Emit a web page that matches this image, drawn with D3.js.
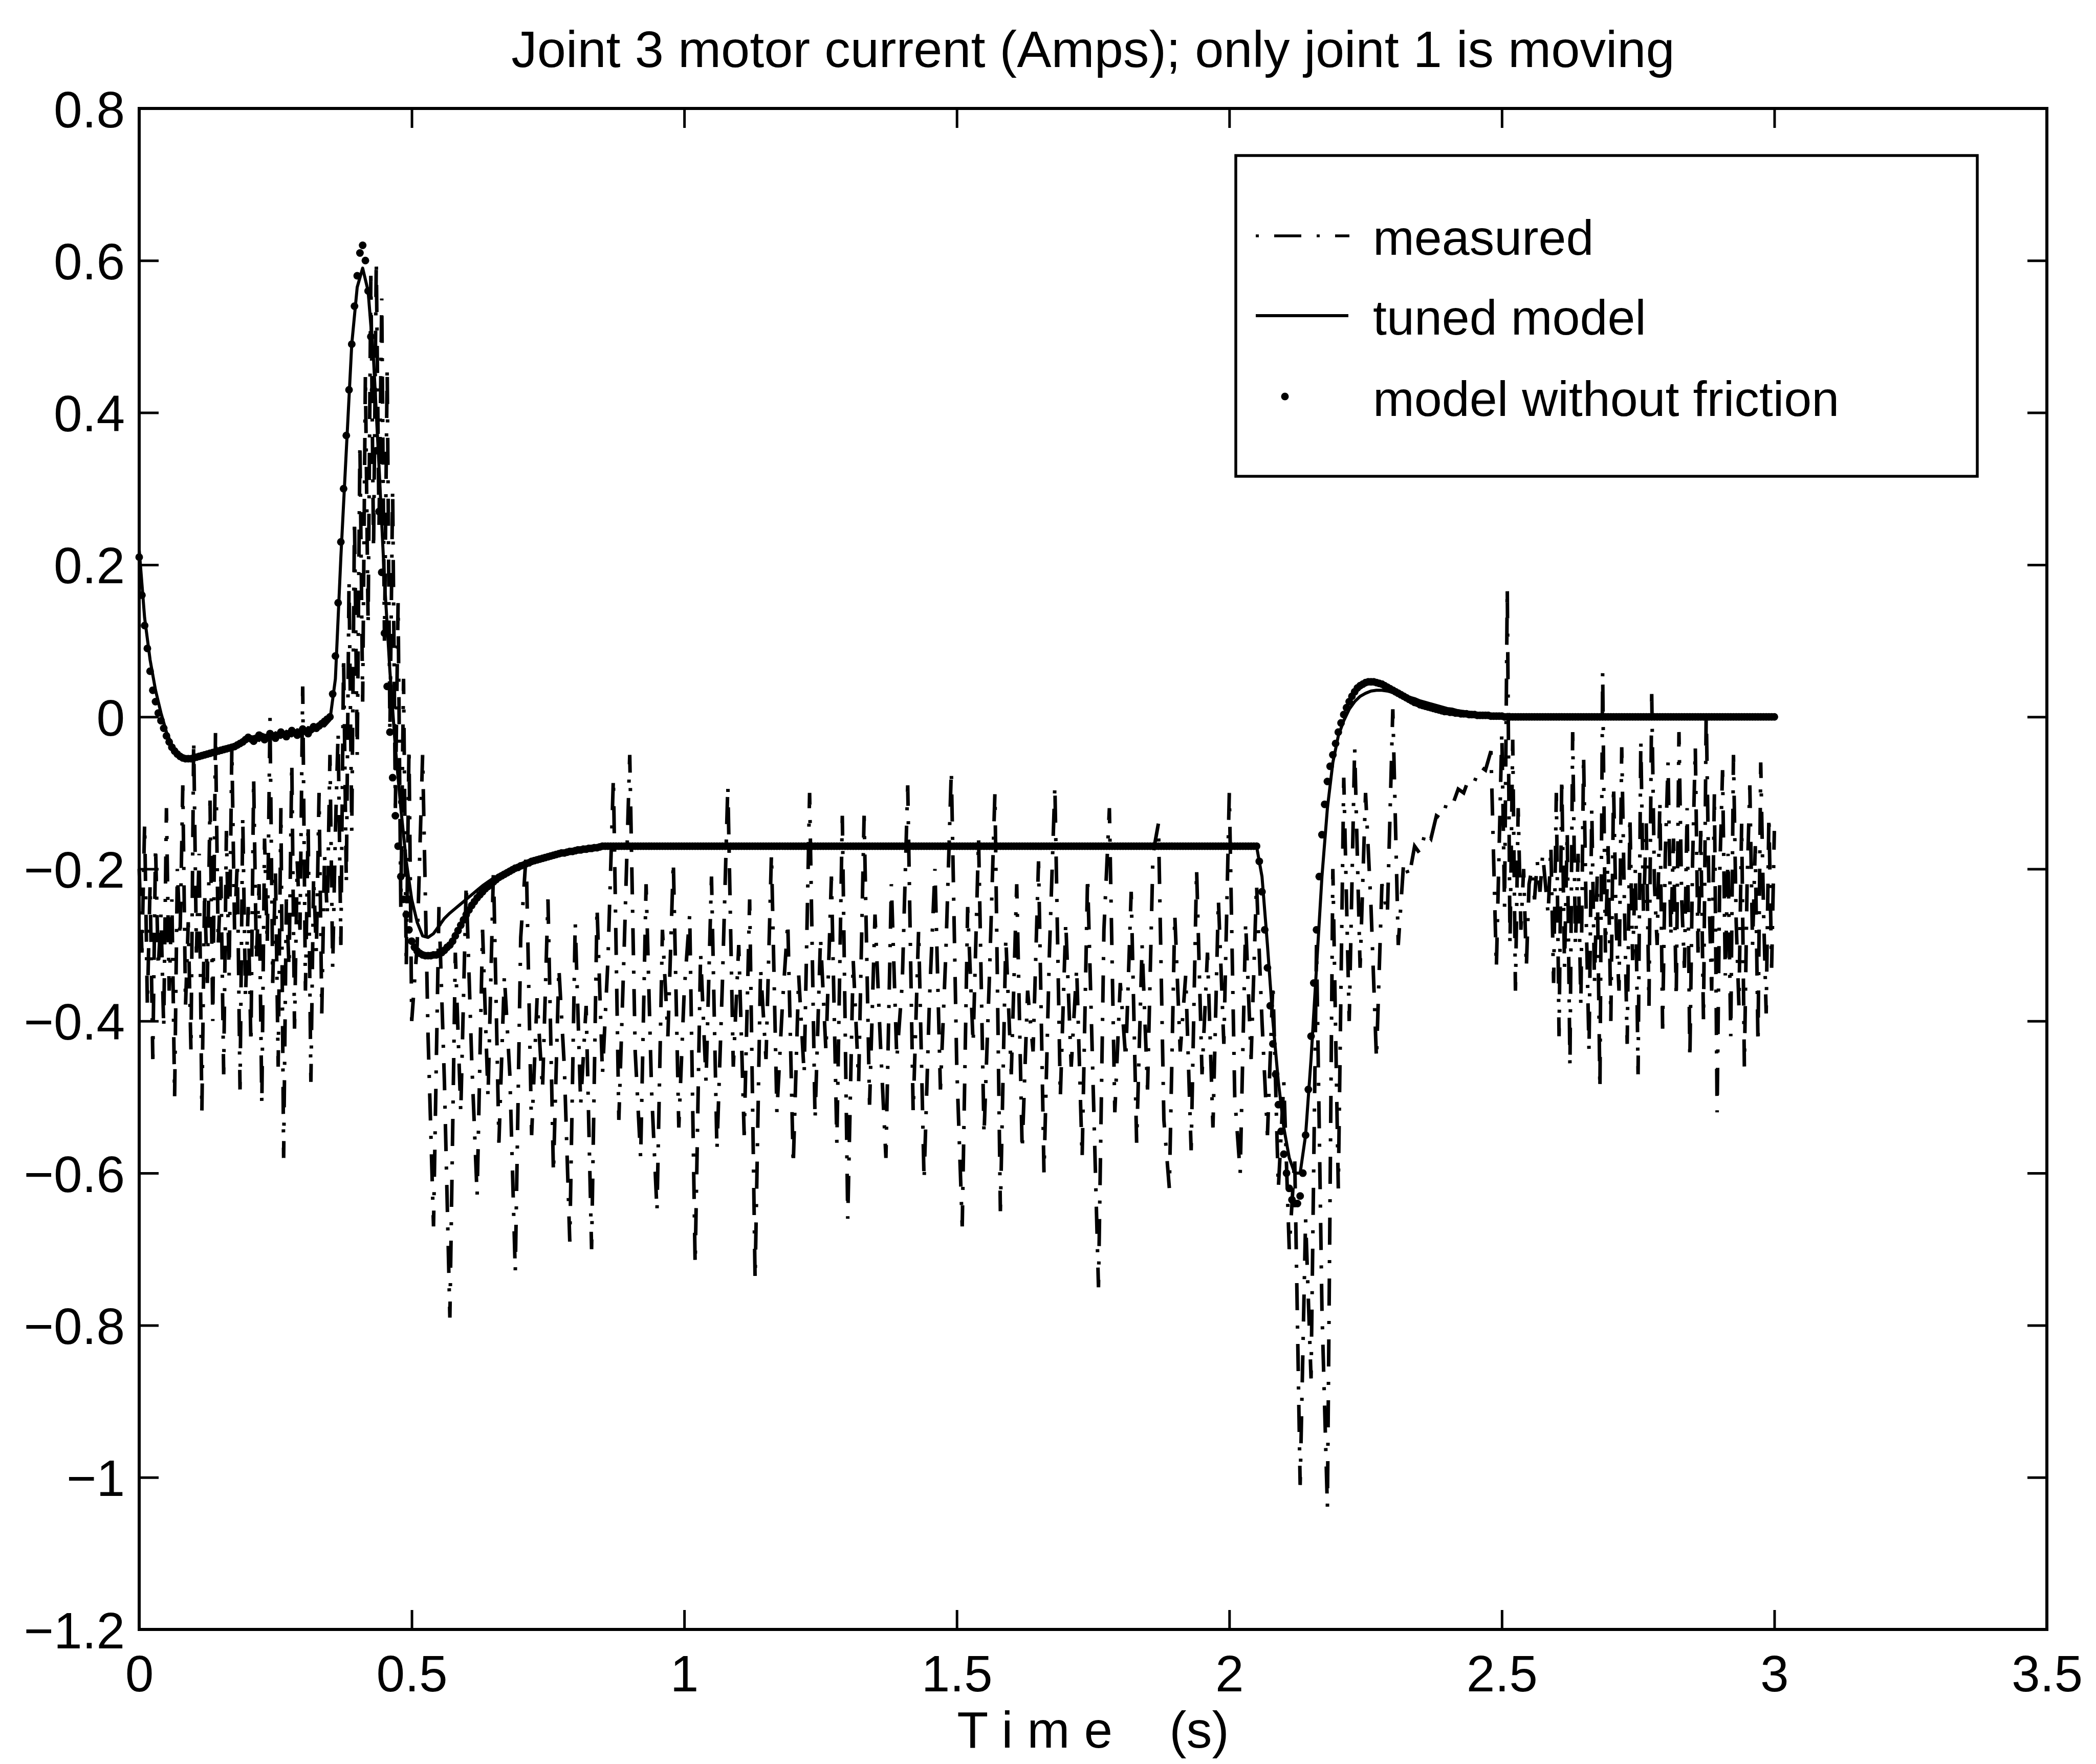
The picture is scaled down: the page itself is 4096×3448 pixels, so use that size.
<!DOCTYPE html>
<html><head><meta charset="utf-8">
<script src="https://cdn.jsdelivr.net/npm/d3@7"></script>
<style>html,body{margin:0;padding:0;background:#fff;}</style>
</head><body><svg id="chart" width="4096" height="3448"></svg>
<script>
// ---------------- data ----------------
const titleText = "Joint 3 motor current (Amps); only joint 1 is moving";
const xLabelText = "T i m e    (s)";
const legendLabels = ["measured", "tuned model", "model without friction"];
const xTicks = [0, 0.5, 1, 1.5, 2, 2.5, 3, 3.5];
const yTicks = [-1.2, -1, -0.8, -0.6, -0.4, -0.2, 0, 0.2, 0.4, 0.6, 0.8];

// measured current, in three pieces (start time, step)
// piece 1: 0.000 .. 0.500 s, every 0.005 s
const measuredA_start = 0, measuredA_step = 0.005;
const measuredA = [
/*0.000*/ -0.20,-0.31,-0.14,-0.38,-0.22,-0.45,-0.17,-0.33,-0.26,-0.41,
/*0.050*/ -0.12,-0.36,-0.24,-0.50,-0.20,-0.29,-0.09,-0.38,-0.27,-0.44,
/*0.100*/ -0.03,-0.31,-0.18,-0.52,-0.23,-0.35,-0.11,-0.40,-0.02,-0.30,
/*0.150*/ -0.21,-0.47,-0.15,-0.34,-0.04,-0.28,-0.19,-0.49,-0.13,-0.37,
/*0.200*/ -0.25,-0.43,-0.08,-0.32,-0.22,-0.51,-0.16,-0.30,0.00,-0.35,
/*0.250*/ -0.20,-0.46,-0.12,-0.58,-0.24,-0.33,-0.06,-0.41,-0.19,-0.28,
/*0.300*/ 0.04,-0.36,-0.14,-0.48,-0.21,-0.31,-0.10,-0.39,-0.18,-0.26,
/*0.350*/ -0.05,-0.33,-0.15,-0.02,-0.30,0.08,-0.22,0.18,-0.15,0.26,
/*0.400*/ -0.05,0.36,0.02,0.45,0.12,0.58,0.22,0.60,0.25,0.55,
/*0.450*/ 0.10,0.46,-0.02,0.30,-0.12,0.15,-0.25,0.05,-0.33,-0.04,
/*0.500*/ -0.40
];
// piece 2: 0.51 .. 2.50 s, every 0.01 s
const measuredB_start = 0.51, measuredB_step = 0.01;
const measuredB = [
/*0.51*/ -0.30,-0.05,-0.42,-0.67,-0.25,-0.48,-0.79,-0.31,-0.52,
/*0.60*/ -0.22,-0.45,-0.63,-0.28,-0.50,-0.20,-0.56,-0.34,-0.47,-0.73,
/*0.70*/ -0.29,-0.18,-0.55,-0.37,-0.49,-0.24,-0.60,-0.33,-0.46,-0.69,
/*0.80*/ -0.27,-0.51,-0.38,-0.70,-0.25,-0.47,-0.32,-0.08,-0.53,-0.30,
/*0.90*/ -0.05,-0.44,-0.58,-0.22,-0.49,-0.65,-0.28,-0.42,-0.19,-0.54,
/*1.00*/ -0.36,-0.26,-0.72,-0.31,-0.48,-0.21,-0.57,-0.35,-0.09,-0.46,
/*1.10*/ -0.30,-0.55,-0.24,-0.74,-0.33,-0.45,-0.18,-0.52,-0.38,-0.27,
/*1.20*/ -0.59,-0.34,-0.47,-0.10,-0.53,-0.29,-0.44,-0.21,-0.56,-0.13,
/*1.30*/ -0.66,-0.32,-0.48,-0.13,-0.51,-0.26,-0.43,-0.58,-0.22,-0.45,
/*1.40*/ -0.35,-0.09,-0.52,-0.28,-0.61,-0.37,-0.20,-0.49,-0.31,-0.07,
/*1.50*/ -0.46,-0.67,-0.25,-0.43,-0.16,-0.55,-0.34,-0.10,-0.65,-0.29,
/*1.60*/ -0.47,-0.22,-0.57,-0.36,-0.44,-0.19,-0.60,-0.31,-0.09,-0.50,
/*1.70*/ -0.27,-0.46,-0.33,-0.58,-0.21,-0.48,-0.75,-0.28,-0.12,-0.52,
/*1.80*/ -0.35,-0.45,-0.23,-0.56,-0.30,-0.49,-0.18,-0.14,-0.53,-0.62,
/*1.90*/ -0.26,-0.44,-0.34,-0.57,-0.20,-0.47,-0.31,-0.54,-0.24,-0.43,
/*2.00*/ -0.10,-0.50,-0.60,-0.27,-0.45,-0.22,-0.40,-0.55,-0.35,-0.62,
/*2.10*/ -0.48,-0.70,-0.58,-1.01,-0.66,-0.87,-0.30,-0.78,-1.04,-0.20,
/*2.20*/ -0.62,-0.08,-0.40,-0.04,-0.33,-0.10,-0.25,-0.45,-0.22,-0.26,
/*2.30*/ 0.01,-0.30,-0.19,-0.21,-0.17,-0.18,-0.15,-0.16,-0.13,-0.135,
/*2.40*/ -0.11,-0.115,-0.095,-0.10,-0.08,-0.085,-0.065,-0.07,-0.045,-0.33,
/*2.50*/ -0.02
];
// piece 3: 2.505 .. 3.000 s, every 0.005 s
const measuredC_start = 2.505, measuredC_step = 0.005;
const measuredC = [
/*2.505*/ -0.25,0.17,-0.30,-0.03,-0.36,-0.12,-0.28,-0.20,-0.33,-0.22,
/*2.555*/ -0.20,-0.24,-0.19,-0.23,-0.18,-0.22,-0.26,-0.17,-0.35,-0.10,
/*2.605*/ -0.42,-0.08,-0.33,-0.15,-0.46,-0.02,-0.30,-0.18,-0.38,-0.05,
/*2.655*/ -0.27,-0.44,-0.12,-0.35,-0.21,-0.49,0.06,-0.31,-0.17,-0.40,
/*2.705*/ -0.09,-0.28,-0.36,-0.04,-0.25,-0.43,-0.13,-0.32,-0.20,-0.47,
/*2.755*/ -0.03,-0.26,-0.14,-0.38,0.03,-0.22,-0.30,-0.11,-0.41,-0.18,
/*2.805*/ -0.06,-0.29,-0.16,-0.37,-0.02,-0.24,-0.33,-0.12,-0.45,-0.19,
/*2.855*/ -0.04,-0.31,-0.15,-0.40,0.01,-0.23,-0.36,-0.10,-0.52,-0.20,
/*2.905*/ -0.07,-0.34,-0.18,-0.42,-0.05,-0.27,-0.38,-0.14,-0.46,-0.22,
/*2.955*/ -0.09,-0.30,-0.17,-0.43,-0.06,-0.25,-0.39,-0.13,-0.33,-0.15
];

// tuned model, one value every 0.01 s
const tunedStep = 0.01;
const tuned = [
/*0.00*/ 0.22,0.13,0.075,0.035,0.005,-0.02,-0.037,-0.047,-0.052,-0.054,
/*0.10*/ -0.053,-0.051,-0.049,-0.047,-0.045,-0.043,-0.041,-0.04,-0.038,-0.035,
/*0.20*/ -0.03,-0.026,-0.031,-0.024,-0.029,-0.021,-0.027,-0.019,-0.025,-0.017,
/*0.30*/ -0.022,-0.014,-0.018,-0.01,-0.012,-0.004,0.05,0.21,0.35,0.49,
/*0.40*/ 0.565,0.59,0.56,0.47,0.33,0.18,0.06,-0.04,-0.12,-0.19,
/*0.50*/ -0.24,-0.27,-0.288,-0.29,-0.285,-0.275,-0.265,-0.258,-0.252,-0.246,
/*0.60*/ -0.24,-0.234,-0.228,-0.222,-0.217,-0.212,-0.208,-0.204,-0.2,-0.197,
/*0.70*/ -0.194,-0.191,-0.189,-0.187,-0.185,-0.183,-0.181,-0.18,-0.179,-0.178,
/*0.80*/ -0.177,-0.176,-0.175,-0.174,-0.173,-0.172,-0.172,-0.171,-0.171,-0.17,
/*0.90*/ -0.17,-0.17,-0.17,-0.17,-0.17,-0.17,-0.17,-0.17,-0.17,-0.17,-0.17,-0.17,-0.17,-0.17,-0.17,-0.17,-0.17,-0.17,-0.17,-0.17,
/*1.10*/ -0.17,-0.17,-0.17,-0.17,-0.17,-0.17,-0.17,-0.17,-0.17,-0.17,-0.17,-0.17,-0.17,-0.17,-0.17,-0.17,-0.17,-0.17,-0.17,-0.17,
/*1.30*/ -0.17,-0.17,-0.17,-0.17,-0.17,-0.17,-0.17,-0.17,-0.17,-0.17,-0.17,-0.17,-0.17,-0.17,-0.17,-0.17,-0.17,-0.17,-0.17,-0.17,
/*1.50*/ -0.17,-0.17,-0.17,-0.17,-0.17,-0.17,-0.17,-0.17,-0.17,-0.17,-0.17,-0.17,-0.17,-0.17,-0.17,-0.17,-0.17,-0.17,-0.17,-0.17,
/*1.70*/ -0.17,-0.17,-0.17,-0.17,-0.17,-0.17,-0.17,-0.17,-0.17,-0.17,-0.17,-0.17,-0.17,-0.17,-0.17,-0.17,-0.17,-0.17,-0.17,-0.17,
/*1.90*/ -0.17,-0.17,-0.17,-0.17,-0.17,-0.17,-0.17,-0.17,-0.17,-0.17,
/*2.00*/ -0.17,-0.17,-0.17,-0.17,-0.17,-0.17,-0.21,-0.30,-0.40,-0.48,
/*2.10*/ -0.54,-0.58,-0.60,-0.60,-0.55,-0.45,-0.33,-0.21,-0.12,-0.06,
/*2.20*/ -0.025,-0.005,0.01,0.02,0.027,0.031,0.034,0.035,0.035,0.034,
/*2.30*/ 0.032,0.03,0.028,0.026,0.024,0.021,0.019,0.017,0.015,0.013,
/*2.40*/ 0.011,0.01,0.008,0.007,0.006,0.005,0.004,0.003,0.003,0.002,
/*2.50*/ 0.002,0.001,0.001,0,0,0,0,0,0,0,
/*2.60*/ 0,0,0,0,0,0,0,0,0,0,0,0,0,0,0,0,0,0,0,0,
/*2.80*/ 0,0,0,0,0,0,0,0,0,0,0,0,0,0,0,0,0,0,0,0,
/*3.00*/ 0
];

// model without friction, one dot every 0.005 s
const noFrictionStep = 0.005;
const noFriction = [
/*0.000*/ 0.21,0.16,0.12,0.09,0.06,0.035,0.02,0.005,-0.005,-0.015,
/*0.050*/ -0.025,-0.033,-0.04,-0.045,-0.049,-0.052,-0.054,-0.055,-0.055,-0.055,
/*0.100*/ -0.054,-0.053,-0.052,-0.051,-0.05,-0.049,-0.048,-0.047,-0.046,-0.045,
/*0.150*/ -0.044,-0.043,-0.042,-0.041,-0.04,-0.039,-0.037,-0.035,-0.033,-0.03,
/*0.200*/ -0.027,-0.029,-0.032,-0.028,-0.024,-0.026,-0.03,-0.027,-0.022,-0.025,
/*0.250*/ -0.028,-0.024,-0.02,-0.023,-0.026,-0.022,-0.018,-0.021,-0.024,-0.02,
/*0.300*/ -0.016,-0.019,-0.022,-0.017,-0.013,-0.015,-0.012,-0.009,-0.006,-0.003,
/*0.350*/ 0.0,0.03,0.08,0.15,0.23,0.30,0.37,0.43,0.49,0.54,
/*0.400*/ 0.58,0.61,0.62,0.60,0.56,0.50,0.43,0.35,0.27,0.19,
/*0.450*/ 0.11,0.04,-0.02,-0.08,-0.13,-0.17,-0.21,-0.24,-0.26,-0.28,
/*0.500*/ -0.295,-0.303,-0.308,-0.311,-0.313,-0.314,-0.314,-0.314,-0.313,-0.313,
/*0.550*/ -0.312,-0.31,-0.307,-0.303,-0.30,-0.295,-0.288,-0.281,-0.274,-0.267,
/*0.600*/ -0.26,-0.254,-0.248,-0.243,-0.238,-0.234,-0.23,-0.226,-0.223,-0.22,
/*0.650*/ -0.217,-0.214,-0.211,-0.209,-0.207,-0.205,-0.203,-0.201,-0.199,-0.198,
/*0.700*/ -0.196,-0.195,-0.193,-0.192,-0.19,-0.189,-0.188,-0.187,-0.186,-0.185,
/*0.750*/ -0.184,-0.183,-0.182,-0.181,-0.18,-0.179,-0.179,-0.178,-0.177,-0.177,
/*0.800*/ -0.176,-0.175,-0.175,-0.174,-0.174,-0.173,-0.173,-0.172,-0.172,-0.171,
/*0.850*/ -0.17,-0.17,-0.17,-0.17,-0.17,-0.17,-0.17,-0.17,-0.17,-0.17,-0.17,-0.17,-0.17,-0.17,-0.17,-0.17,-0.17,-0.17,-0.17,-0.17,
/*0.950*/ -0.17,-0.17,-0.17,-0.17,-0.17,-0.17,-0.17,-0.17,-0.17,-0.17,-0.17,-0.17,-0.17,-0.17,-0.17,-0.17,-0.17,-0.17,-0.17,-0.17,
/*1.050*/ -0.17,-0.17,-0.17,-0.17,-0.17,-0.17,-0.17,-0.17,-0.17,-0.17,-0.17,-0.17,-0.17,-0.17,-0.17,-0.17,-0.17,-0.17,-0.17,-0.17,
/*1.150*/ -0.17,-0.17,-0.17,-0.17,-0.17,-0.17,-0.17,-0.17,-0.17,-0.17,-0.17,-0.17,-0.17,-0.17,-0.17,-0.17,-0.17,-0.17,-0.17,-0.17,
/*1.250*/ -0.17,-0.17,-0.17,-0.17,-0.17,-0.17,-0.17,-0.17,-0.17,-0.17,-0.17,-0.17,-0.17,-0.17,-0.17,-0.17,-0.17,-0.17,-0.17,-0.17,
/*1.350*/ -0.17,-0.17,-0.17,-0.17,-0.17,-0.17,-0.17,-0.17,-0.17,-0.17,-0.17,-0.17,-0.17,-0.17,-0.17,-0.17,-0.17,-0.17,-0.17,-0.17,
/*1.450*/ -0.17,-0.17,-0.17,-0.17,-0.17,-0.17,-0.17,-0.17,-0.17,-0.17,-0.17,-0.17,-0.17,-0.17,-0.17,-0.17,-0.17,-0.17,-0.17,-0.17,
/*1.550*/ -0.17,-0.17,-0.17,-0.17,-0.17,-0.17,-0.17,-0.17,-0.17,-0.17,-0.17,-0.17,-0.17,-0.17,-0.17,-0.17,-0.17,-0.17,-0.17,-0.17,
/*1.650*/ -0.17,-0.17,-0.17,-0.17,-0.17,-0.17,-0.17,-0.17,-0.17,-0.17,-0.17,-0.17,-0.17,-0.17,-0.17,-0.17,-0.17,-0.17,-0.17,-0.17,
/*1.750*/ -0.17,-0.17,-0.17,-0.17,-0.17,-0.17,-0.17,-0.17,-0.17,-0.17,-0.17,-0.17,-0.17,-0.17,-0.17,-0.17,-0.17,-0.17,-0.17,-0.17,
/*1.850*/ -0.17,-0.17,-0.17,-0.17,-0.17,-0.17,-0.17,-0.17,-0.17,-0.17,-0.17,-0.17,-0.17,-0.17,-0.17,-0.17,-0.17,-0.17,-0.17,-0.17,
/*1.950*/ -0.17,-0.17,-0.17,-0.17,-0.17,-0.17,-0.17,-0.17,-0.17,-0.17,-0.17,-0.17,-0.17,-0.17,-0.17,-0.17,-0.17,-0.17,-0.17,-0.17,
/*2.050*/ -0.17,-0.19,-0.23,-0.28,-0.33,-0.38,-0.43,-0.47,-0.51,-0.545,
/*2.100*/ -0.575,-0.60,-0.62,-0.635,-0.64,-0.64,-0.63,-0.60,-0.55,-0.49,
/*2.150*/ -0.42,-0.35,-0.28,-0.21,-0.155,-0.115,-0.085,-0.065,-0.05,-0.035,
/*2.200*/ -0.02,-0.008,0.003,0.012,0.02,0.027,0.033,0.038,0.041,0.043,
/*2.250*/ 0.045,0.046,0.046,0.046,0.045,0.044,0.043,0.041,0.039,0.037,
/*2.300*/ 0.035,0.033,0.031,0.029,0.027,0.025,0.023,0.021,0.019,0.018,
/*2.350*/ 0.016,0.015,0.014,0.013,0.012,0.011,0.01,0.009,0.008,0.007,
/*2.400*/ 0.007,0.006,0.006,0.005,0.005,0.004,0.004,0.004,0.003,0.003,
/*2.450*/ 0.003,0.002,0.002,0.002,0.002,0.002,0.001,0.001,0.001,0.001,
/*2.500*/ 0.001,0,0,0,0,0,0,0,0,0,0,0,0,0,0,0,0,0,0,0,
/*2.600*/ 0,0,0,0,0,0,0,0,0,0,0,0,0,0,0,0,0,0,0,0,
/*2.700*/ 0,0,0,0,0,0,0,0,0,0,0,0,0,0,0,0,0,0,0,0,
/*2.800*/ 0,0,0,0,0,0,0,0,0,0,0,0,0,0,0,0,0,0,0,0,
/*2.900*/ 0,0,0,0,0,0,0,0,0,0,0,0,0,0,0,0,0,0,0,0,
/*3.000*/ 0
];

// ---------------- drawing ----------------
const FONT = "'Liberation Sans', Arial, Helvetica, sans-serif";
const svg = d3.select("#chart");
svg.append("rect").attr("width", 4096).attr("height", 3448).attr("fill", "#fff");

const L = 272, R = 4000, T = 212, B = 3185;
const x = d3.scaleLinear().domain([0, 3.5]).range([L, R]);
const y = d3.scaleLinear().domain([-1.2, 0.8]).range([B, T]);

const fmtY = d => d < 0 ? "\u2212" + String(-d) : String(d);
const fmtX = d => String(d);

// measured points (time, value) from the three pieces
const measuredPts = [
  ...measuredA.map((v, i) => [measuredA_start + i * measuredA_step, v]),
  ...measuredB.map((v, i) => [measuredB_start + i * measuredB_step, v]),
  ...measuredC.map((v, i) => [measuredC_start + i * measuredC_step, v])
];
const mLine = d3.line().x(d => x(d[0])).y(d => y(d[1]));
svg.append("path").datum(measuredPts).attr("d", mLine)
  .attr("fill", "none").attr("stroke", "#000").attr("stroke-width", 7)
  .attr("stroke-dasharray", "53,30,6,30").attr("stroke-linejoin", "miter");

const tLine = d3.line().x((d, i) => x(i * tunedStep)).y(d => y(d));
svg.append("path").datum(tuned).attr("d", tLine)
  .attr("fill", "none").attr("stroke", "#000").attr("stroke-width", 6)
  .attr("stroke-linejoin", "round");

svg.append("g").selectAll("circle").data(noFriction).join("circle")
  .attr("cx", (d, i) => x(i * noFrictionStep)).attr("cy", d => y(d))
  .attr("r", 7.5).attr("fill", "#000");

// axes
function styleAxis(g) {
  g.select(".domain").remove();
  g.selectAll(".tick line").attr("stroke", "#000").attr("stroke-width", 5);
  g.attr("font-family", FONT).attr("font-size", 100);
  g.selectAll(".tick text").attr("fill", "#000");
}
const gB = svg.append("g").attr("transform", `translate(0,${B})`)
  .call(d3.axisBottom(x).tickValues(xTicks).tickSize(-38).tickSizeOuter(0).tickPadding(50).tickFormat(fmtX));
styleAxis(gB);
const gT = svg.append("g").attr("transform", `translate(0,${T})`)
  .call(d3.axisTop(x).tickValues(xTicks).tickSize(-38).tickSizeOuter(0).tickFormat(""));
styleAxis(gT);
const gL = svg.append("g").attr("transform", `translate(${L},0)`)
  .call(d3.axisLeft(y).tickValues(yTicks).tickSize(-38).tickSizeOuter(0).tickPadding(28).tickFormat(fmtY));
styleAxis(gL);
gL.selectAll(".tick text").attr("dy", "0.36em");
const gR = svg.append("g").attr("transform", `translate(${R},0)`)
  .call(d3.axisRight(y).tickValues(yTicks).tickSize(-38).tickSizeOuter(0).tickFormat(""));
styleAxis(gR);

svg.append("rect").attr("x", L).attr("y", T).attr("width", R - L).attr("height", B - T)
  .attr("fill", "none").attr("stroke", "#000").attr("stroke-width", 6);

// title and x label
svg.append("text").attr("x", (L + R) / 2).attr("y", 131).attr("text-anchor", "middle")
  .attr("font-family", FONT).attr("font-size", 101).attr("fill", "#000").text(titleText);
svg.append("text").attr("x", (L + R) / 2).attr("y", 3416).attr("text-anchor", "middle")
  .attr("font-family", FONT).attr("font-size", 100).attr("fill", "#000")
  .style("white-space", "pre").attr("xml:space", "preserve").text(xLabelText);

// legend
const lg = svg.append("g");
lg.append("rect").attr("x", 2415).attr("y", 304).attr("width", 1449).attr("height", 627)
  .attr("fill", "#fff").attr("stroke", "#000").attr("stroke-width", 5.5);
const rows = [498, 654, 813];
lg.append("line").attr("x1", 2454).attr("x2", 2637).attr("y1", rows[0] - 37).attr("y2", rows[0] - 37)
  .attr("stroke", "#000").attr("stroke-width", 5.5).attr("stroke-dasharray", "53,30,6,30").attr("stroke-dashoffset", 83);
lg.append("line").attr("x1", 2454).attr("x2", 2635).attr("y1", rows[1] - 37).attr("y2", rows[1] - 37)
  .attr("stroke", "#000").attr("stroke-width", 6);
lg.append("circle").attr("cx", 2511).attr("cy", rows[2] - 38).attr("r", 7.5).attr("fill", "#000");
lg.selectAll("text.leg").data(legendLabels).join("text").attr("class", "leg")
  .attr("x", 2683).attr("y", (d, i) => rows[i])
  .attr("font-family", FONT).attr("font-size", 97).attr("fill", "#000").text(d => d);
</script>
</body></html>
